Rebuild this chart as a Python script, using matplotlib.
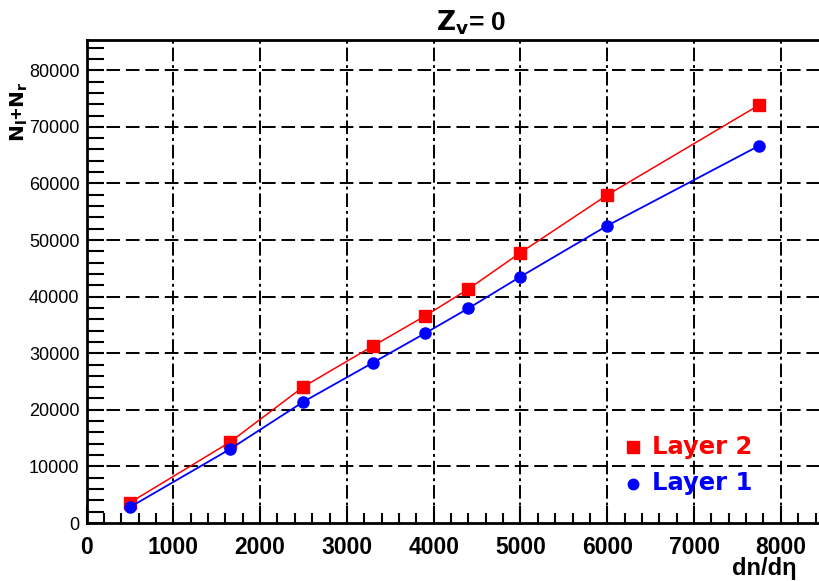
import matplotlib
matplotlib.use("Agg")
import matplotlib.pyplot as plt
from matplotlib.ticker import MultipleLocator, FixedLocator

# Data
dndeta = [500, 1650, 2500, 3300, 3900, 4400, 5000, 6000, 7750]
layer2 = [3600, 14260, 24080, 31270, 36570, 41340, 47760, 57950, 73850]
layer1 = [2800, 13020, 21430, 28320, 33520, 37930, 43520, 52530, 66660]
yticks = [0, 10000, 20000, 30000, 40000, 50000, 60000, 70000, 80000]
xticks = [0, 1000, 2000, 3000, 4000, 5000, 6000, 7000, 8000]

plt.rcParams['font.family'] = ['Liberation Sans', 'DejaVu Sans']

W, H = 819, 581
fig = plt.figure(figsize=(W / 100, H / 100), dpi=100)
left = 86.5 / W
bottom = (H - 523) / H
top = (H - 40) / H
ax = fig.add_axes([left, bottom, 1.0 - left, top - bottom])

ax.set_xlim(0, 8440)
ax.set_ylim(0, 85340)

# grid
for xv in xticks[1:]:
    ax.axvline(xv, color='black', lw=1.4, ls=(0, (7, 2, 1.5, 2)), zorder=1)
for yv in yticks[1:]:
    ax.axhline(yv, color='black', lw=1.4, ls=(0, (7, 3)), zorder=1)

ax.plot(dndeta, layer2, color='#ff0000', lw=1.1, marker='s', ms=9,
        mec='#ff0000', mfc='#ff0000', zorder=3)
ax.plot(dndeta, layer1, color='#0000ff', lw=1.3, marker='o', ms=8,
        mec='#0000ff', mfc='#0000ff', zorder=3)

ax.xaxis.set_major_locator(FixedLocator(xticks))
ax.xaxis.set_minor_locator(MultipleLocator(200))
ax.yaxis.set_major_locator(FixedLocator(yticks))
ax.yaxis.set_minor_locator(MultipleLocator(2000))

ax.tick_params(axis='x', which='major', direction='in', length=12, width=1.5,
               labelsize=16.5, pad=9, top=False)
ax.tick_params(axis='x', which='minor', direction='in', length=7, width=1.5, top=False)
ax.tick_params(axis='y', which='major', direction='in', length=12, width=1.5,
               labelsize=13, pad=5, right=False)
ax.tick_params(axis='y', which='minor', direction='in', length=12, width=1.5, right=False)
for lab in ax.get_xticklabels():
    lab.set_fontweight('bold')

for s in ['left', 'bottom', 'top']:
    ax.spines[s].set_linewidth(2)
ax.spines['right'].set_visible(False)

fig.text(471 / W, 1 - 23 / H, r'$\mathbf{Z_v}$' + '= 0', ha='center', va='center',
         fontsize=19, fontweight='bold')
fig.text(797 / W, 1 - 569 / H, 'dn/dη', ha='right', va='center',
         fontsize=17, fontweight='bold')
fig.text(19 / W, 1 - 112 / H, r'$\mathbf{N_l}$+$\mathbf{N_r}$', ha='center', va='center',
         rotation=90, fontsize=14.5, fontweight='bold')

# legend
ax.plot([6300], [(523 - 447) / 5.66 * 1000], ls='none', marker='s',
        ms=8, color='#ff0000', clip_on=False, zorder=4)
ax.plot([6300], [(523 - 484) / 5.66 * 1000], ls='none', marker='o',
        ms=7.5, color='#0000ff', clip_on=False, zorder=4)
fig.text(652 / W, 1 - 447 / H, 'Layer 2', color='#ff0000', ha='left', va='center',
         fontsize=17.5, fontweight='bold', family='DejaVu Sans')
fig.text(652 / W, 1 - 483 / H, 'Layer 1', color='#0000ff', ha='left', va='center',
         fontsize=17.5, fontweight='bold', family='DejaVu Sans')

fig.savefig('out.png', dpi=100)
